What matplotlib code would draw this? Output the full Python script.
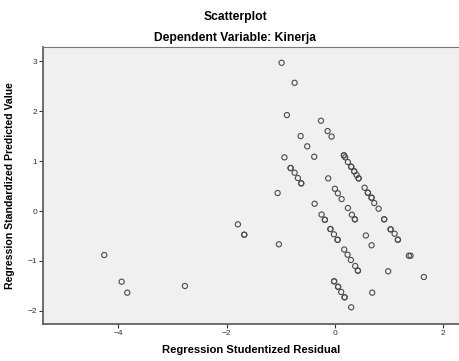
import matplotlib.pyplot as plt

plt.rcParams['font.family'] = ['Liberation Sans', 'DejaVu Sans']

# studentized residual (x) and standardized predicted value (y)
resid = [-0.984, -0.744, -0.886, -0.258, -0.135, -0.061, -0.633, -0.511, -0.382, -0.932,
         -0.818, -0.818, -0.744, -0.683, -0.622, -0.622, -0.124, 0.000, 0.055, 0.124,
         -1.058, -0.375, -0.246, -0.185, -0.185, -1.791, -1.674, -1.674, -0.083, -0.083,
         -0.018, 0.050, 0.050, -1.034, 0.172, 0.234, 0.295, 0.375, 0.425, 0.425,
         -0.015, -0.015, 0.059, 0.059, 0.116, 0.179, 0.179, 0.301, 0.166, 0.166,
         0.190, 0.240, 0.301, 0.301, 0.356, 0.356, 0.401, 0.438, 0.438, 0.548,
         0.609, 0.609, 0.677, 0.677, 0.726, 0.807, 0.240, 0.314, 0.369, 0.369,
         0.910, 0.910, 1.028, 1.028, 1.102, 1.163, 1.163, 0.572, 0.677, 1.366,
         1.397, 0.984, 1.643, 0.689, -4.259, -3.938, -3.834, -2.769]
pred = [2.972, 2.571, 1.924, 1.810, 1.603, 1.493, 1.503, 1.297, 1.088, 1.076,
        0.862, 0.862, 0.768, 0.661, 0.555, 0.555, 0.655, 0.447, 0.355, 0.240,
        0.361, 0.146, -0.070, -0.176, -0.176, -0.267, -0.475, -0.475, -0.361, -0.361,
        -0.467, -0.577, -0.577, -0.667, -0.772, -0.876, -0.982, -1.102, -1.196, -1.196,
        -1.409, -1.409, -1.519, -1.519, -1.623, -1.729, -1.729, -1.930, 1.116, 1.116,
        1.076, 0.982, 0.888, 0.888, 0.796, 0.796, 0.721, 0.655, 0.655, 0.467,
        0.367, 0.367, 0.267, 0.267, 0.160, 0.046, 0.060, -0.074, -0.166, -0.166,
        -0.166, -0.166, -0.367, -0.367, -0.455, -0.575, -0.575, -0.491, -0.687, -0.896,
        -0.896, -1.208, -1.323, -1.637, -0.882, -1.417, -1.637, -1.503]

x_ticks = [-4, -2, 0, 2]
y_ticks = [-2, -1, 0, 1, 2, 3]

fig = plt.figure(figsize=(4.6, 3.61), dpi=100)
ax = fig.add_axes([0.0935, 0.1025, 0.9065, 0.7675])
ax.set_facecolor('#f0f0f0')

ax.scatter(resid, pred, s=14, facecolors='none', edgecolors='#4a4a4a', linewidths=0.8)

ax.set_xlim(-5.39, 2.31)
ax.set_ylim(-2.265, 3.29)
ax.set_xticks(x_ticks)
ax.set_yticks(y_ticks)
ax.tick_params(labelsize=6, colors='#333333', length=3, width=0.8, pad=1)

for side in ['left', 'bottom']:
    ax.spines[side].set_color('#555555')
    ax.spines[side].set_linewidth(1.2)
for side in ['top', 'right']:
    ax.spines[side].set_color('#777777')
    ax.spines[side].set_linewidth(0.8)

ax.set_xlabel('Regression Studentized Residual', fontsize=8.1, fontweight='bold', labelpad=6)
ax.set_ylabel('Regression Standardized Predicted Value', fontsize=7.6, fontweight='bold', labelpad=9)

fig.text(0.511, 0.953, 'Scatterplot', ha='center', va='center', fontsize=8.7, fontweight='bold')
fig.text(0.511, 0.895, 'Dependent Variable: Kinerja', ha='center', va='center',
         fontsize=8.7, fontweight='bold')

fig.savefig('out.png', dpi=100)
